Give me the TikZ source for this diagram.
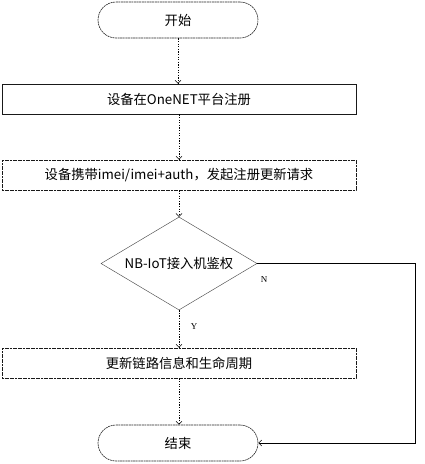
\documentclass[tikz,border=0pt]{standalone}
\usepackage{fontspec}
\setmainfont{Liberation Serif}
\newfontfamily\cjk{Noto Sans CJK SC}
\usetikzlibrary{shapes.geometric,arrows.meta}
\begin{document}
\begin{tikzpicture}[x=1pt,y=-1pt,
  term/.style={draw=black!85,dash pattern=on 2pt off 0.6pt,line width=0.6pt,rounded corners=18pt,minimum width=160pt,minimum height=36pt,font=\cjk\fontsize{13.3}{15}\selectfont,inner sep=0pt},
  proc/.style={draw=black!90,line width=0.7pt,minimum width=354pt,minimum height=30pt,font=\cjk\fontsize{13.3}{15}\selectfont,inner sep=0pt},
  dproc/.style={proc,dash pattern=on 2pt off 0.6pt},
  dec/.style={draw=black!70,line width=0.45pt,diamond,aspect=1.67,minimum width=156pt,minimum height=93pt,inner sep=0pt,font=\cjk\fontsize{13.3}{15}\selectfont},
  flow/.style={dash pattern=on 1.3pt off 1.3pt,line width=0.8pt,-{Straight Barb[length=3pt,width=6pt,line width=0.5pt]}},
  nflow/.style={line width=0.6pt,-{Straight Barb[length=3pt,width=6pt,line width=0.5pt]}},
  lab/.style={font=\fontsize{9}{10}\selectfont,inner sep=0pt}]
\useasboundingbox (0,0) rectangle (424,464);
\node[term] (start) at (178,20) {开始};
\node[proc] (reg) at (179,99) {设备在OneNET平台注册};
\node[dproc] (req) at (179,175) {设备携带imei/imei+auth，发起注册更新请求};
\node[dec] (auth) at (179,263.5) {NB-IoT接入机鉴权};
\node[dproc] (upd) at (179,363) {更新链路信息和生命周期};
\node[term] (end) at (178,443) {结束};
\coordinate (c1) at (415,263.5);
\coordinate (c2) at (415,443);
\draw[flow] (start.south) -- (start.south |- reg.north);
\draw[flow] (reg.south) -- (req.north);
\draw[flow] (req.south) -- (auth.north);
\draw[flow] (auth.south) -- (upd.north);
\draw[flow] (upd.south) -- (upd.south |- end.north);
\draw[nflow] (auth.east) -- (c1) -- (c2) -- (end.east);
\node[lab] (nl) at (264,280) {N};
\node[lab] (yl) at (194,327) {Y};
\end{tikzpicture}
\end{document}
